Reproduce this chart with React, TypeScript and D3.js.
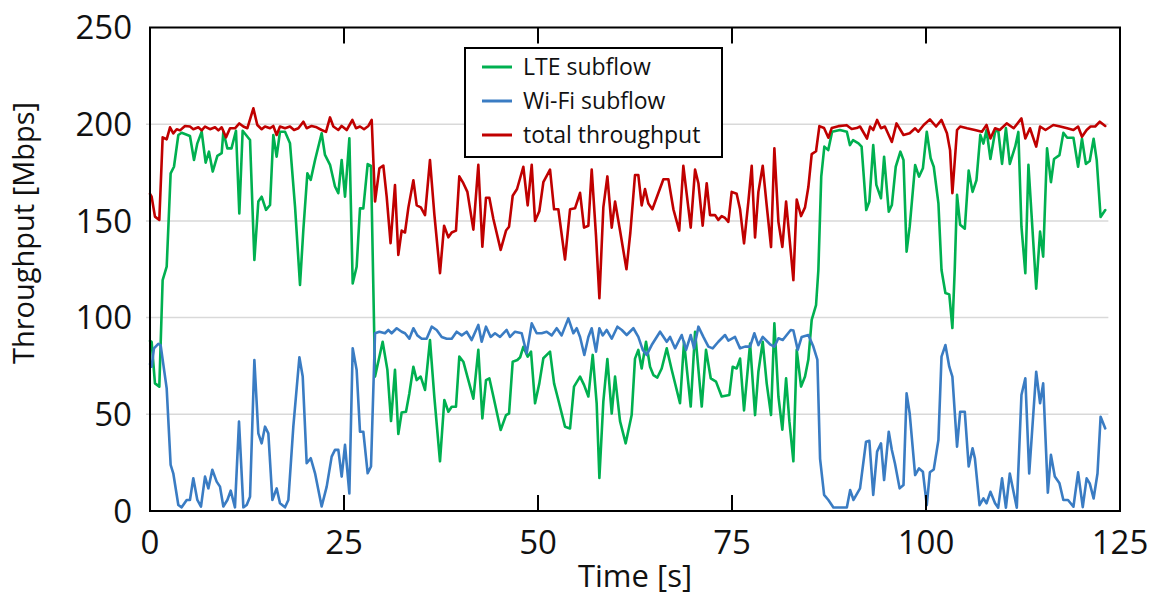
import React from "react";
import * as d3 from "d3";

// ---------- data ----------
const xTicks = [0, 25, 50, 75, 100, 125];
const yTicks = [0, 50, 100, 150, 200, 250];
const gridValues = [50, 100, 150, 200];
const seriesNames = ["LTE subflow", "Wi-Fi subflow", "total throughput"];
const seriesColors = ["#00b050", "#3a7cc3", "#c00000"];

const lteT = [0, 0.21, 0.64, 1.2, 1.63, 2.15, 2.66, 3.09, 3.65, 4.08, 5.15, 5.67, 6.1, 6.66, 7.17, 7.6, 8.08, 8.68, 9.24, 9.45, 9.97, 10.5, 11.08, 11.51, 11.94, 12.89, 13.45, 13.96, 14.39, 14.95, 15.47, 15.89, 16.32, 16.75, 17.4, 18.04, 18.69, 19.33, 19.76, 20.28, 20.71, 21.27, 22.12, 22.55, 23.2, 23.84, 24.27, 24.7, 25.13, 25.69, 26.12, 26.63, 27.06, 27.49, 28.05, 28.48, 29.0, 29.56, 29.98, 30.59, 31.06, 31.57, 32.0, 32.43, 32.99, 33.42, 33.94, 34.37, 34.88, 35.44, 36.08, 36.64, 37.37, 37.93, 38.45, 38.88, 39.43, 39.86, 40.38, 40.9, 41.67, 42.31, 42.83, 43.3, 43.73, 44.25, 45.19, 45.88, 46.27, 46.74, 47.34, 47.7, 48.11, 48.67, 49.1, 49.62, 50.17, 50.69, 51.55, 52.07, 52.62, 53.48, 54.13, 54.64, 55.42, 55.93, 56.49, 57.05, 57.56, 57.91, 58.42, 58.94, 59.5, 59.93, 60.57, 61.3, 62.07, 62.5, 62.93, 63.36, 63.92, 64.44, 64.87, 65.38, 65.94, 66.59, 67.23, 68.3, 68.82, 69.68, 70.24, 71.1, 71.65, 72.26, 72.94, 73.67, 74.66, 75.09, 75.6, 76.04, 76.55, 77.33, 77.97, 78.4, 78.96, 79.47, 80.03, 80.46, 80.98, 81.49, 81.97, 82.4, 82.91, 83.34, 83.9, 84.41, 84.84, 85.27, 85.83, 86.13, 86.5, 86.9, 87.4, 87.9, 88.9, 89.8, 90.2, 90.6, 91.3, 91.7, 92.3, 92.7, 93.2, 93.6, 94.2, 94.6, 95.2, 95.6, 96.1, 96.7, 97.1, 97.5, 97.9, 98.6, 99.1, 99.6, 100.1, 100.6, 101.0, 101.6, 102.0, 102.5, 103.0, 103.4, 103.7, 104.0, 104.4, 105.0, 105.5, 106.0, 106.5, 107.0, 107.4, 107.8, 108.3, 108.9, 109.3, 109.8, 110.3, 110.8, 111.5, 111.9, 112.3, 112.8, 113.2, 114.2, 114.7, 115.1, 115.6, 116.1, 116.5, 117.2, 117.7, 118.2, 119.0, 119.6, 120.1, 120.6, 121.1, 121.6, 122.0, 122.5, 123.1];
const lteV = [88, 87.5, 66, 64.3, 119.4, 126.3, 174.6, 178, 194.4, 195.6, 193.9, 181.5, 190.1, 196.1, 180.1, 185.8, 175.5, 183.6, 185, 196.1, 187.5, 187.5, 196.6, 153.9, 196.6, 191.8, 129.8, 160, 162.5, 155.7, 158.2, 194.4, 183.2, 196.1, 196.1, 190.1, 157.4, 116.9, 145.3, 174.6, 171.2, 181.5, 195.3, 184.1, 179, 167.8, 164.3, 181.5, 162.5, 192.7, 117.7, 126.3, 156.5, 156.5, 179.4, 178.4, 69.5, 79.8, 87.5, 73, 46.5, 73, 39.8, 50.9, 51.3, 60.8, 74.6, 67.7, 69.5, 62.6, 88.4, 59, 25.7, 57.4, 51.3, 53.9, 53.9, 79.8, 77.2, 69.5, 58.1, 83.3, 47.9, 67.7, 68.6, 59.2, 41.9, 49.6, 50.4, 77.2, 78.1, 79.5, 84.9, 79.8, 82.4, 55.7, 66, 79, 82.4, 66, 57.4, 43.6, 42.7, 64.3, 69.5, 65.2, 59.2, 80.7, 55.7, 17.1, 56.6, 78.6, 50.4, 69.5, 46.5, 35, 49.6, 78.8, 83.3, 73.7, 87.5, 74.6, 70.3, 69, 73.7, 84.1, 73, 55.7, 87.5, 54, 92.7, 54, 83.3, 68.6, 66.9, 59.2, 60, 74.6, 73.7, 78.8, 52, 86.6, 49.6, 72, 87.5, 66, 49.6, 97, 59.2, 42, 68.6, 46.2, 25.7, 83.3, 64.3, 69.5, 78.3, 98.8, 106.5, 124.6, 172.9, 188.4, 186.6, 196.1, 197, 196.1, 189.2, 191.8, 190.1, 188.4, 155.6, 160, 189.2, 168.6, 161.7, 183.2, 154.8, 158.2, 178, 185.8, 181.5, 134.1, 147, 178.9, 172.9, 177.2, 196.1, 182.4, 178, 159.1, 124.6, 112.7, 112, 94.6, 124.6, 163.5, 148, 146, 176, 165, 171, 194.5, 190, 197, 182, 196, 197, 179.5, 198, 179.5, 188.5, 196, 147, 123, 179, 115, 144.5, 131.5, 187.5, 170, 182, 184, 195.5, 193, 193, 178, 192.5, 179.5, 181, 192.5, 181.4, 152, 155.6];

const wifiT = [0, 0.21, 0.51, 1.07, 1.37, 2.15, 2.66, 3.0, 3.65, 4.08, 4.73, 5.15, 5.58, 6.1, 6.57, 7.09, 7.52, 8.03, 8.59, 9.02, 9.45, 9.97, 10.4, 10.95, 11.47, 12.03, 12.46, 12.89, 13.45, 13.96, 14.39, 14.82, 15.25, 15.77, 16.32, 16.75, 17.4, 17.83, 18.47, 19.25, 19.68, 20.19, 20.71, 21.27, 22.12, 22.77, 23.41, 23.84, 24.27, 24.7, 25.13, 25.69, 26.12, 26.63, 27.06, 27.49, 28.05, 28.48, 29.0, 29.56, 30.28, 30.71, 31.14, 31.79, 32.43, 32.86, 33.42, 33.94, 34.45, 35.01, 35.65, 36.3, 36.94, 37.59, 38.23, 38.88, 39.52, 40.17, 40.81, 41.45, 42.31, 42.74, 43.3, 43.9, 44.46, 45.11, 45.96, 46.39, 47.04, 47.9, 48.54, 49.19, 49.83, 50.48, 51.12, 51.76, 52.41, 53.05, 53.91, 54.56, 54.99, 55.42, 55.97, 56.49, 56.92, 57.48, 57.91, 58.34, 58.85, 59.5, 60.23, 60.8, 61.43, 62.29, 62.93, 63.5, 64.01, 64.65, 65.73, 66.59, 67.02, 67.66, 68.52, 69.08, 69.68, 70.11, 70.67, 71.31, 71.96, 72.51, 73.24, 74.1, 74.53, 75.39, 76.04, 76.68, 77.33, 77.88, 78.4, 78.96, 79.9, 80.46, 80.98, 81.54, 82.05, 82.57, 82.91, 83.47, 83.98, 84.84, 85.48, 86.0, 86.35, 86.87, 87.42, 88.07, 89.8, 90.23, 90.66, 91.5, 92.27, 92.7, 93.2, 93.7, 94.2, 94.6, 95.2, 95.6, 96.0, 96.6, 97.1, 97.5, 97.9, 98.6, 99.1, 99.6, 100.1, 100.5, 101.0, 101.6, 102.0, 102.5, 103.0, 103.4, 104.0, 104.4, 105.0, 105.5, 106.0, 106.3, 106.9, 107.4, 107.8, 108.3, 108.9, 109.3, 109.8, 110.3, 110.8, 111.7, 112.3, 112.8, 113.3, 114.2, 114.7, 115.1, 115.7, 116.1, 116.6, 117.2, 117.7, 118.3, 119.0, 119.6, 120.2, 120.7, 121.1, 121.6, 122.1, 122.5, 123.1];
const wifiV = [76, 74.6, 84.1, 86.4, 85.8, 63.4, 23.8, 19.5, 3.1, 1.9, 5.7, 5.7, 16.9, 5.7, 2.3, 17.8, 11.7, 21.3, 15.2, 12.6, 2.3, 5.7, 10.5, 1.9, 46.2, 1.9, 3.1, 7.4, 78.1, 40.1, 35, 43.6, 40.1, 5.7, 11.7, 4.0, 1.9, 5.7, 43.6, 79.5, 69.5, 24.7, 27.3, 19.5, 2.3, 12.6, 28.1, 31.6, 31.6, 17.8, 34.2, 9.1, 84.1, 72.9, 41, 41, 19.5, 23, 91.9, 92.7, 91.9, 93.6, 91.9, 94.5, 92.7, 91.9, 89.1, 94.5, 90.8, 89.1, 89.1, 95.3, 93.6, 90, 89.1, 89.1, 92.7, 90.8, 92.7, 88.4, 96.2, 87.5, 95.3, 90, 91.9, 90, 93.6, 90, 92.7, 91.9, 81.5, 97, 91.9, 91.9, 92.7, 90.8, 94.5, 90.8, 99.6, 91.9, 94.5, 90, 80.7, 90, 94.5, 82.4, 94.5, 90.8, 93.6, 89.1, 95.3, 93.6, 91, 94.5, 90, 83.3, 80.7, 85.8, 92.7, 87.5, 90, 84.1, 91, 83.3, 91, 84.1, 95.3, 90, 85, 84.1, 87.5, 91, 88.1, 90, 84.1, 85, 85, 91.9, 85.8, 90, 86.2, 85, 89.3, 88.4, 91, 93.6, 93.3, 83.3, 90, 91, 85, 78.3, 27, 8.3, 5.7, 1.8, 1.8, 10.8, 5.7, 11.7, 35.8, 36.3, 8.3, 30.7, 35, 16, 41, 31.5, 24.6, 11.7, 13.4, 60.8, 50.4, 18.6, 22, 20.3, 3, 20, 21.5, 36.7, 79.8, 85.8, 74.6, 69.5, 33.3, 51.3, 51.3, 23, 32.4, 27.2, 3, 6.5, 4, 9.9, 4, 1.7, 16.9, 1.7, 19.4, 1.7, 60, 68.6, 19.4, 72, 55.7, 66, 9.5, 29, 17.8, 14.3, 5.7, 5.7, 2.2, 20, 2, 16.9, 14.3, 6.5, 19.4, 48.7, 42.7];

const totalT = [0, 0.21, 0.64, 1.2, 1.63, 2.15, 2.58, 3.0, 3.44, 3.87, 4.51, 5.15, 5.58, 6.23, 6.66, 7.09, 7.73, 8.38, 8.81, 9.24, 9.79, 10.31, 10.95, 11.51, 12.03, 12.54, 13.32, 13.83, 14.39, 14.82, 15.47, 15.89, 16.32, 16.75, 17.4, 18.04, 18.56, 19.12, 19.76, 20.19, 20.83, 21.48, 22.12, 22.68, 23.2, 23.63, 24.27, 24.7, 25.35, 26.08, 26.55, 27.06, 27.58, 28.14, 28.57, 29.0, 29.56, 30.07, 30.5, 31.0, 31.57, 32.0, 32.43, 32.86, 33.3, 33.94, 34.37, 34.9, 35.44, 36.08, 36.64, 37.37, 37.9, 38.45, 38.88, 39.43, 39.86, 40.38, 40.9, 41.67, 42.31, 42.83, 43.3, 43.73, 44.25, 45.19, 45.88, 46.27, 46.74, 47.3, 48.11, 48.67, 49.19, 49.62, 50.17, 50.69, 51.55, 52.07, 52.62, 53.48, 54.13, 54.77, 55.42, 55.93, 56.49, 56.92, 57.48, 57.91, 58.42, 58.94, 59.5, 59.93, 60.57, 61.4, 61.9, 62.5, 62.93, 63.36, 63.79, 64.22, 64.74, 66.16, 66.8, 67.45, 68.2, 68.73, 69.16, 69.68, 70.24, 70.67, 71.22, 71.74, 72.17, 72.81, 73.24, 73.67, 74.1, 74.53, 74.96, 75.6, 76.04, 76.55, 77.11, 77.54, 77.97, 78.4, 78.96, 79.47, 80.03, 80.46, 80.98, 81.49, 81.97, 82.4, 82.91, 83.34, 83.9, 84.41, 84.84, 85.27, 85.83, 86.26, 86.86, 87.42, 87.85, 88.71, 89.78, 90.42, 91.06, 91.5, 92.4, 92.8, 93.2, 93.7, 94.2, 94.7, 95.6, 96.2, 97.1, 97.9, 98.6, 99.0, 99.7, 100.5, 101.3, 102.0, 102.7, 103.1, 103.4, 104.0, 104.4, 105.3, 106.3, 107.2, 107.8, 108.3, 108.9, 109.5, 110.4, 111.3, 112.3, 112.8, 113.4, 114.2, 114.7, 115.4, 116.4, 117.3, 118.2, 119.0, 119.6, 120.1, 120.7, 121.2, 121.8, 122.4, 123.1];
const totalV = [164, 162.5, 152.2, 150.5, 193.2, 192.2, 198.4, 195.3, 197.4, 196.8, 199.1, 198.8, 197.4, 198.4, 196.8, 198.8, 197.4, 198.4, 196.8, 198.4, 193.2, 197.9, 197.9, 200.4, 198.8, 197.9, 208.2, 199.6, 197.4, 198.8, 197.9, 199.1, 194.4, 198.8, 197.9, 198.8, 197, 197.9, 201.3, 197.9, 199.1, 198.4, 197, 196, 203.5, 198.8, 197, 199.1, 197, 202.2, 197.9, 198.8, 197.4, 199.1, 202.2, 160, 177.2, 178.6, 162.5, 138.5, 168.5, 132.4, 145, 144, 157, 171, 158, 157, 153, 181.5, 153.5, 123, 147.5, 141.5, 144, 145, 173, 169.5, 165, 145.5, 179, 136.7, 162, 162, 151, 135, 145, 147, 163, 166.5, 178, 158, 179, 150, 155, 170, 176.5, 156, 156, 130, 156, 156.5, 164.5, 146.5, 147.5, 176.5, 142, 110, 157, 173, 146.5, 160, 145, 125, 144, 173.7, 173.7, 158, 166.5, 159, 156, 171.5, 171.5, 156, 145, 178.5, 164, 146.5, 176.5, 169.5, 147.5, 169.5, 153, 153, 150.5, 152.5, 151.5, 149.5, 165, 164, 156, 138.4, 160, 178.5, 141.5, 165, 178.5, 158, 136.5, 187.5, 149.5, 136.5, 160, 141.5, 119.4, 161, 152.5, 157, 167.5, 184.5, 186, 199, 198, 193, 198, 199, 199.5, 197.5, 198, 198.8, 192.6, 198.8, 197, 202.2, 197.9, 198.8, 190.8, 200.4, 194.4, 195.3, 197.9, 196.1, 199.6, 202.5, 198.8, 202.2, 195.3, 186.6, 164.3, 197, 198.8, 197.9, 197, 196.1, 199.6, 192.6, 197.9, 197, 200.4, 197.9, 203, 192.6, 197.9, 188.4, 198.8, 197, 199.6, 198.8, 197.9, 197, 198.8, 193.5, 197, 198.8, 198.8, 201.3, 199.1];

// ---------- layout ----------
const W = 1154;
const H = 597;
const left = 150;
const right = 1120;
const top = 27.5;
const bottom = 511;

const x = d3.scaleLinear().domain([0, 125]).range([left, right]);
const y = d3.scaleLinear().domain([0, 250]).range([bottom, top]);

const lineGen = d3
  .line<[number, number]>()
  .x((d) => x(d[0]))
  .y((d) => y(d[1]));

const zip = (t: number[], v: number[]) => t.map((tt, i) => [tt, v[i]] as [number, number]);

const series = [zip(lteT, lteV), zip(wifiT, wifiV), zip(totalT, totalV)];

const FONT = "'Open Sans', 'Noto Sans', sans-serif";

export default function App() {
  const gridRight = x(123.5);
  return (
    <svg width={W} height={H} style={{ position: "absolute", left: 0, top: 0, background: "#fff" }}>
      <rect x={0} y={0} width={W} height={H} fill="#fff" />
      {/* grid */}
      {gridValues.map((g) => (
        <line key={g} x1={left - 4} x2={gridRight} y1={y(g)} y2={y(g)} stroke="#d9d9d9" strokeWidth={1.5} />
      ))}
      {/* series */}
      {series.map((s, i) => (
        <path
          key={i}
          d={lineGen(s) || ""}
          fill="none"
          stroke={seriesColors[i]}
          strokeWidth={2.6}
          strokeLinejoin="round"
          strokeLinecap="round"
        />
      ))}
      {/* frame */}
      <rect x={left} y={top} width={right - left} height={bottom - top} fill="none" stroke="#000" strokeWidth={2} />
      {/* inward ticks top & bottom */}
      {xTicks.slice(1, -1).map((t) => (
        <g key={t}>
          <line x1={x(t)} x2={x(t)} y1={top} y2={top + 16} stroke="#000" strokeWidth={2} />
          <line x1={x(t)} x2={x(t)} y1={bottom} y2={bottom - 16} stroke="#000" strokeWidth={2} />
        </g>
      ))}
      {/* y tick labels */}
      {yTicks.map((t) => (
        <text
          key={t}
          x={132}
          y={y(t)}
          dy="0.36em"
          textAnchor="end"
          fontFamily={FONT}
          fontSize={33}
          fill="#111"
        >
          {t}
        </text>
      ))}
      {/* x tick labels */}
      {xTicks.map((t) => (
        <text
          key={t}
          x={x(t)}
          y={554}
          textAnchor="middle"
          fontFamily={FONT}
          fontSize={33}
          fill="#111"
        >
          {t}
        </text>
      ))}
      {/* axis titles */}
      <text x={635} y={587} textAnchor="middle" fontFamily={FONT} fontSize={31} fill="#111">
        Time [s]
      </text>
      <text
        transform={`translate(34,233) rotate(-90)`}
        textAnchor="middle"
        fontFamily={FONT}
        fontSize={29}
        fill="#111"
      >
        Throughput [Mbps]
      </text>
      {/* legend */}
      <rect x={465} y={48} width={257} height={109} fill="#fff" stroke="#000" strokeWidth={2} />
      {seriesNames.map((n, i) => {
        const ly = 67 + i * 34;
        return (
          <g key={n}>
            <line x1={482} x2={512} y1={ly} y2={ly} stroke={seriesColors[i]} strokeWidth={3} />
            <text x={523} y={ly + 8} fontFamily={FONT} fontSize={23} fill="#111">
              {n}
            </text>
          </g>
        );
      })}
    </svg>
  );
}
